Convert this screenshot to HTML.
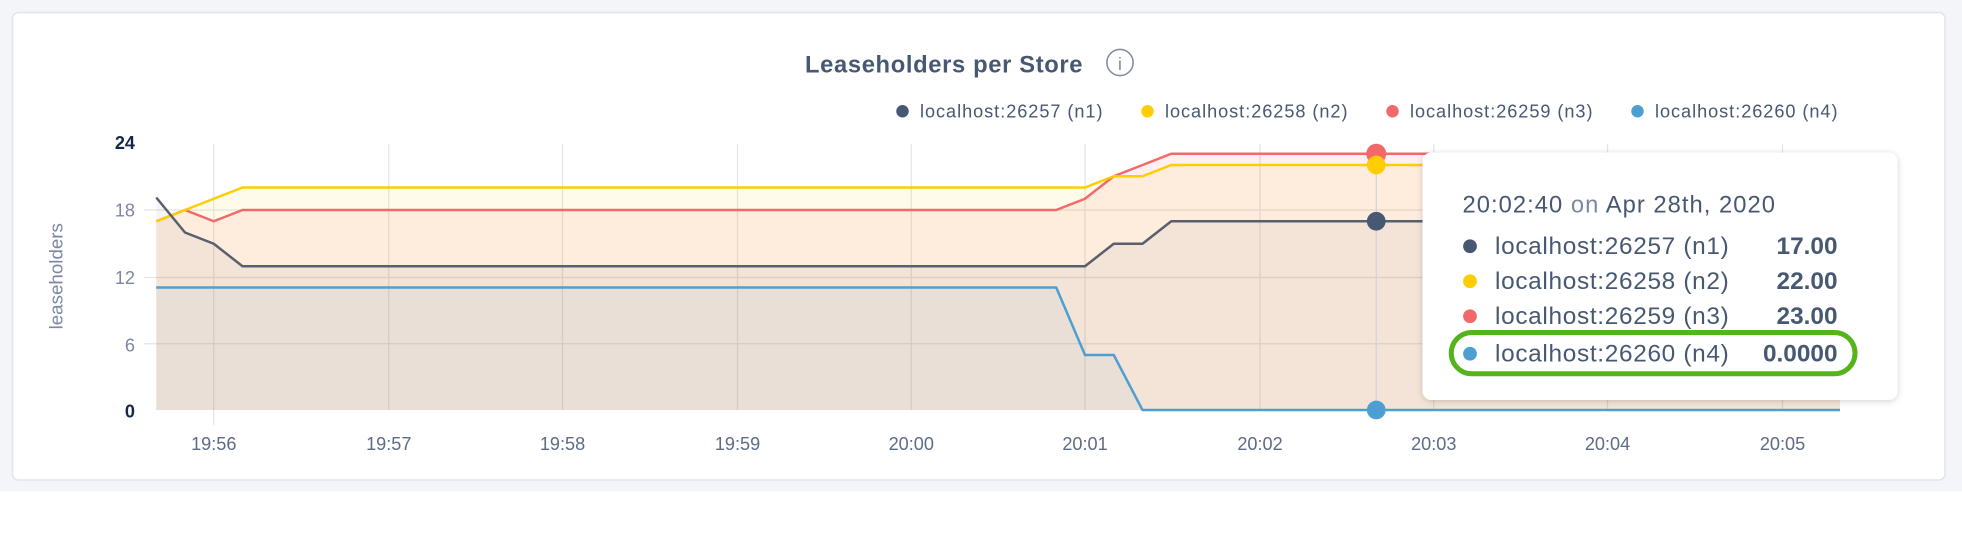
<!DOCTYPE html>
<html><head><meta charset="utf-8"><style>
html,body{margin:0;padding:0;background:#fff;}
svg{display:block;font-family:"Liberation Sans",sans-serif;}
</style></head><body>
<svg width="1962" height="534" viewBox="0 0 1569.6 427.2" xmlns="http://www.w3.org/2000/svg">
<defs><filter id="sh" x="-10%" y="-10%" width="120%" height="130%"><feDropShadow dx="0" dy="1" stdDeviation="2.5" flood-color="#000" flood-opacity="0.18"/></filter></defs>
<rect x="0" y="0" width="1569.6" height="393" fill="#f4f5f8"/>
<rect x="10" y="10" width="1546" height="374" rx="5" fill="#fff" stroke="#e2e4ea" stroke-width="1.2"/>
<text x="755" y="58" text-anchor="middle" font-size="19" font-weight="bold" fill="#475872" textLength="222">Leaseholders per Store</text>
<circle cx="896" cy="50" r="10.5" fill="none" stroke="#7d87a3" stroke-width="1.2"/>
<text x="896" y="56" text-anchor="middle" font-size="14" fill="#7d87a3">i</text>
<g font-size="14.5" fill="#475872">
<circle cx="722" cy="89" r="5" fill="#475872"/><text x="736" y="94" textLength="146">localhost:26257 (n1)</text>
<circle cx="918" cy="89" r="5" fill="#ffcd02"/><text x="932" y="94" textLength="146">localhost:26258 (n2)</text>
<circle cx="1114" cy="89" r="5" fill="#f16969"/><text x="1128" y="94" textLength="146">localhost:26259 (n3)</text>
<circle cx="1310" cy="89" r="5" fill="#4e9fd1"/><text x="1324" y="94" textLength="146">localhost:26260 (n4)</text>
</g>
<g stroke="#e4e4e8" stroke-width="1">
<line x1="171" y1="115" x2="171" y2="340"/><line x1="311" y1="115" x2="311" y2="328"/><line x1="450" y1="115" x2="450" y2="328"/><line x1="590" y1="115" x2="590" y2="328"/><line x1="729" y1="115" x2="729" y2="328"/><line x1="868" y1="115" x2="868" y2="328"/><line x1="1008" y1="115" x2="1008" y2="328"/><line x1="1147" y1="115" x2="1147" y2="328"/><line x1="1286" y1="115" x2="1286" y2="328"/><line x1="1426" y1="115" x2="1426" y2="328"/>
<line x1="115" y1="168" x2="1472" y2="168"/><line x1="115" y1="222" x2="1472" y2="222"/><line x1="115" y1="275" x2="1472" y2="275"/>
</g>
<path d="M125,177 L148,168 L171,177 L194,168 L845,168 L868,159 L891,141 L937,123 L1472,123 L1472,328 L125,328Z" fill="#f16969" fill-opacity="0.1"/>
<path d="M125,177 L148,168 L194,150 L868,150 L891,141 L914,141 L937,132 L1472,132 L1472,328 L125,328Z" fill="#ffcd02" fill-opacity="0.08"/>
<path d="M125,158 L148,186 L171,195 L194,213 L868,213 L891,195 L914,195 L937,177 L1472,177 L1472,328 L125,328Z" fill="#475872" fill-opacity="0.06"/>
<path d="M125,230 L845,230 L868,284 L891,284 L914,328 L1472,328 L1472,328 L125,328Z" fill="#4e9fd1" fill-opacity="0.06"/>
<line x1="1101" y1="115" x2="1101" y2="328" stroke="#d3d3d8" stroke-width="1"/>
<g fill="none" stroke-width="2" stroke-linejoin="round">
<path d="M125,177 L148,168 L171,177 L194,168 L845,168 L868,159 L891,141 L937,123 L1472,123" stroke="#f16969"/>
<path d="M125,177 L148,168 L194,150 L868,150 L891,141 L914,141 L937,132 L1472,132" stroke="#ffcd02"/>
<path d="M125,158 L148,186 L171,195 L194,213 L868,213 L891,195 L914,195 L937,177 L1472,177" stroke="#5a5f6e"/>
<path d="M125,230 L845,230 L868,284 L891,284 L914,328 L1472,328" stroke="#4e9fd1"/>
</g>
<circle cx="1101" cy="123" r="8" fill="#f16969"/>
<circle cx="1101" cy="132" r="7.5" fill="#ffcd02"/>
<circle cx="1101" cy="177" r="7.5" fill="#475872"/>
<circle cx="1101" cy="328" r="7.5" fill="#4e9fd1"/>
<g font-size="14.5" fill="#7d87a3" text-anchor="end">
<text x="108" y="119" font-weight="bold" fill="#152849">24</text>
<text x="108" y="173">18</text><text x="108" y="227">12</text><text x="108" y="281">6</text>
<text x="108" y="334" font-weight="bold" fill="#152849">0</text>
</g>
<text transform="translate(50,221) rotate(-90)" text-anchor="middle" font-size="15" fill="#7d87a3">leaseholders</text>
<g font-size="14.5" fill="#5e6b85" text-anchor="middle">
<text x="171" y="360">19:56</text><text x="311" y="360">19:57</text><text x="450" y="360">19:58</text><text x="590" y="360">19:59</text><text x="729" y="360">20:00</text><text x="868" y="360">20:01</text><text x="1008" y="360">20:02</text><text x="1147" y="360">20:03</text><text x="1286" y="360">20:04</text><text x="1426" y="360">20:05</text>
</g>
<rect x="1138" y="122" width="380" height="198" rx="7" fill="#fff" filter="url(#sh)"/>
<text x="1170" y="170" font-size="19" fill="#475872" textLength="250">20:02:40 <tspan fill="#7d87a3">on</tspan> Apr 28th, 2020</text>
<g font-size="19.5" fill="#475872">
<circle cx="1176" cy="197" r="5.5" fill="#475872"/><text x="1196" y="203" textLength="187">localhost:26257 (n1)</text><text x="1470" y="203" text-anchor="end" font-weight="bold">17.00</text>
<circle cx="1176" cy="225" r="5.5" fill="#ffcd02"/><text x="1196" y="231" textLength="187">localhost:26258 (n2)</text><text x="1470" y="231" text-anchor="end" font-weight="bold">22.00</text>
<circle cx="1176" cy="253" r="5.5" fill="#f16969"/><text x="1196" y="259" textLength="187">localhost:26259 (n3)</text><text x="1470" y="259" text-anchor="end" font-weight="bold">23.00</text>
<circle cx="1176" cy="283" r="5.5" fill="#4e9fd1"/><text x="1196" y="289" textLength="187">localhost:26260 (n4)</text><text x="1470" y="289" text-anchor="end" font-weight="bold">0.0000</text>
</g>
<rect x="1161" y="266" width="323" height="33" rx="16.5" fill="none" stroke="#55b31b" stroke-width="4"/>
</svg>
</body></html>
